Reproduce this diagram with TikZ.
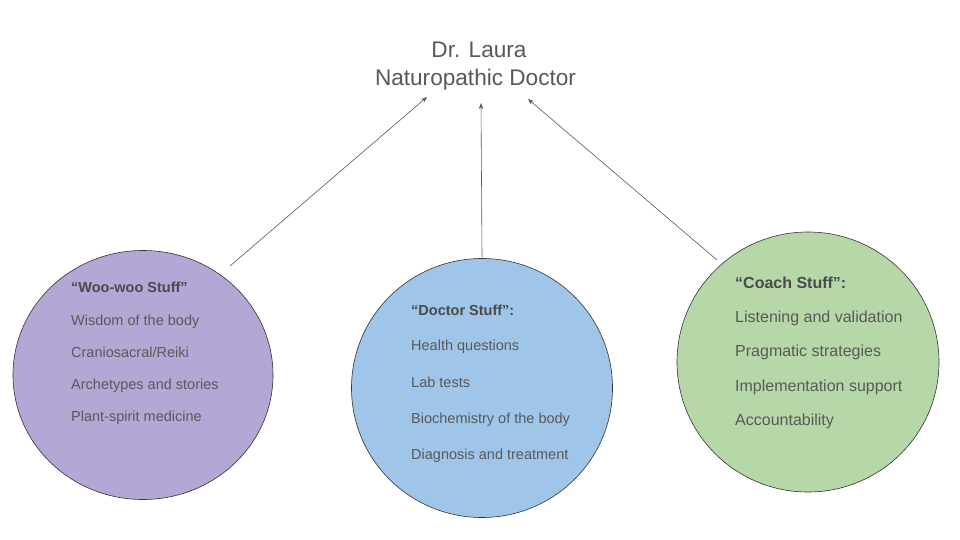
\documentclass[tikz,border=0pt]{standalone}
\usepackage{fontspec}
\setmainfont{Liberation Sans}
\usetikzlibrary{shapes.geometric,arrows.meta}
\definecolor{woo}{HTML}{B4A7D6}
\definecolor{doc}{HTML}{9FC5E8}
\definecolor{coach}{HTML}{B6D7A8}
\definecolor{txt}{HTML}{595959}
\definecolor{head}{HTML}{4A4A4A}
\begin{document}
\begin{tikzpicture}[x=1pt,y=-1pt,
  bubble/.style={ellipse,draw=black!80,line width=0.6pt,inner sep=0pt},
  item/.style={anchor=base west,inner sep=0pt,text=txt,font=\fontsize{14.5}{16}\selectfont},
  itembig/.style={anchor=base west,inner sep=0pt,text=txt,font=\fontsize{16}{18}\selectfont},
  heading/.style={item,text=head,font=\fontsize{14.5}{16}\selectfont\bfseries},
  headingbig/.style={itembig,text=head,font=\fontsize{16}{18}\selectfont\bfseries},
  link/.style={draw=txt,line width=0.6pt,-{Stealth[length=6pt,width=4.5pt]}}]
\useasboundingbox[fill=white] (0,0) rectangle (960,540);
% title
\node[anchor=base,inner sep=0pt,text=txt,font=\fontsize{22.6}{26}\selectfont] (t1) at (479,58) {Dr. Laura};
\node[anchor=base,inner sep=0pt,text=txt,font=\fontsize{22.6}{26}\selectfont] (t2) at (475.5,86) {Naturopathic Doctor};
% circles
\node[bubble,fill=woo,minimum width=260pt,minimum height=249pt] (woo) at (143,375) {};
\node[bubble,fill=doc,minimum width=261pt,minimum height=259pt] (doc) at (482,388) {};
\node[bubble,fill=coach,minimum width=262pt,minimum height=260pt] (coach) at (808,362) {};
% woo text
\node[heading] (w0) at (71,292) {“Woo-woo Stuff”};
\node[item] (w1) at (71,325) {Wisdom of the body};
\node[item] (w2) at (71,357) {Craniosacral/Reiki};
\node[item] (w3) at (71,389) {Archetypes and stories};
\node[item] (w4) at (71,421) {Plant-spirit medicine};
% doctor text
\node[heading] (d0) at (411,315) {“Doctor Stuff”:};
\node[item] (d1) at (411,350) {Health questions};
\node[item] (d2) at (411,387) {Lab tests};
\node[item] (d3) at (411,423) {Biochemistry of the body};
\node[item] (d4) at (411,459) {Diagnosis and treatment};
% coach text
\node[headingbig] (c0) at (735,288) {“Coach Stuff”:};
\node[itembig] (c1) at (735,322) {Listening and validation};
\node[itembig] (c2) at (735,356) {Pragmatic strategies};
\node[itembig] (c3) at (735,391) {Implementation support};
\node[itembig] (c4) at (735,425) {Accountability};
% arrows
\coordinate (ws) at (230,266);
\coordinate (we) at (427,97);
\coordinate (ds) at (482,257);
\coordinate (de) at (481,103);
\coordinate (cs) at (717,260);
\coordinate (ce) at (528,99);
\draw[link] (ws) -- (we);
\draw[link] (ds) -- (de);
\draw[link] (cs) -- (ce);
\end{tikzpicture}
\end{document}
